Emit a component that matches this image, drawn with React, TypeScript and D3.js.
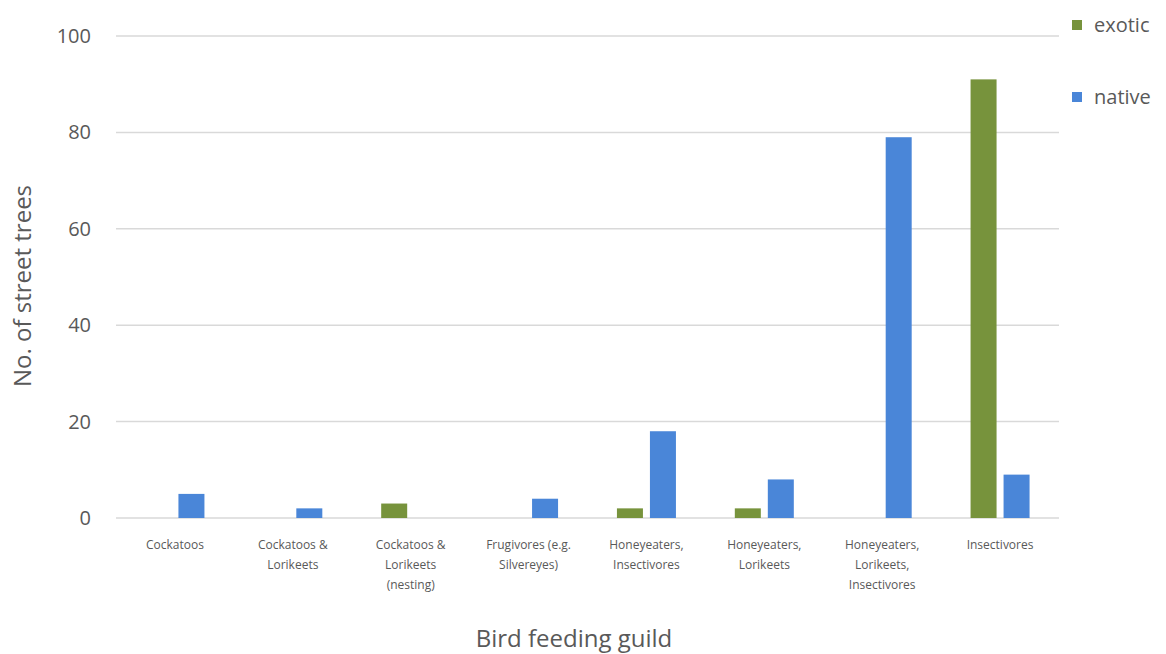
import React from 'react';
import * as d3 from 'd3';

const categories = [
  ['Cockatoos'],
  ['Cockatoos &', 'Lorikeets'],
  ['Cockatoos &', 'Lorikeets', '(nesting)'],
  ['Frugivores (e.g.', 'Silvereyes)'],
  ['Honeyeaters,', 'Insectivores'],
  ['Honeyeaters,', 'Lorikeets'],
  ['Honeyeaters,', 'Lorikeets,', 'Insectivores'],
  ['Insectivores'],
];
const exoticValues = [0, 0, 3, 0, 2, 2, 0, 91];
const nativeValues = [5, 2, 0, 4, 18, 8, 79, 9];
const seriesNames = ['exotic', 'native'];
const seriesColors = ['#77933c', '#4a86d8'];
const yTicks = [0, 20, 40, 60, 80, 100];

const App: React.FC = () => {
  const width = 1166;
  const height = 654;
  const left = 116;
  const right = 1059;
  const top = 36;
  const bottom = 518;

  const keys = categories.map((_, i) => String(i));
  const x = d3.scaleBand().domain(keys).range([left, right]).padding(0);
  const bw = x.bandwidth();
  const barW = 26;
  const gap = 7;
  const y = d3.scaleLinear().domain([0, 100]).range([bottom, top]);

  const series = [exoticValues, nativeValues];
  const font = '"Open Sans", sans-serif';

  return (
    <svg
      width={width}
      height={height}
      style={{ position: 'absolute', left: 0, top: 0, background: '#fff' }}
      fontFamily={font}
    >
      <g className="grid">
        {yTicks.map(t => (
          <line key={t} x1={left} x2={right} y1={y(t)} y2={y(t)} stroke="#d9d9d9" strokeWidth={1.5} />
        ))}
      </g>
      <g className="ticks">
        {yTicks.map(t => (
          <text key={t} x={91} y={y(t)} dy="0.35em" textAnchor="end" fontSize={20} fill="#595959">
            {t}
          </text>
        ))}
      </g>

      <g className="bars">
        {keys.map((k, i) => {
          const cx = (x(k) as number) + bw / 2;
          return series.map((vals, s) => {
            const v = vals[i];
            if (!v) return null;
            const bx = s === 0 ? cx - gap / 2 - barW : cx + gap / 2;
            return (
              <rect key={`${k}-${s}`} x={bx} y={y(v)} width={barW} height={y(0) - y(v)} fill={seriesColors[s]} />
            );
          });
        })}
      </g>

      <g className="xlabels">
        {keys.map((k, i) => {
          const cx = (x(k) as number) + bw / 2;
          return (
            <text key={k} x={cx} y={549} textAnchor="middle" fontSize={12} fill="#595959">
              {categories[i].map((line, j) => (
                <tspan key={j} x={cx} dy={j === 0 ? 0 : 20}>{line}</tspan>
              ))}
            </text>
          );
        })}
      </g>

      <text x={574} y={647} textAnchor="middle" fontSize={24} fill="#595959">Bird feeding guild</text>
      <text
        transform={`translate(31, 286) rotate(-90)`}
        textAnchor="middle"
        fontSize={24}
        fill="#595959"
      >
        No. of street trees
      </text>

      <g className="legend">
        {seriesNames.map((name, i) => (
          <g key={name} transform={`translate(1072, ${25 + i * 72})`}>
            <rect x={0} y={-5} width={10} height={10} fill={seriesColors[i]} />
            <text x={22} y={0} dy="0.35em" fontSize={20} fill="#595959">{name}</text>
          </g>
        ))}
      </g>
    </svg>
  );
};

export default App;
